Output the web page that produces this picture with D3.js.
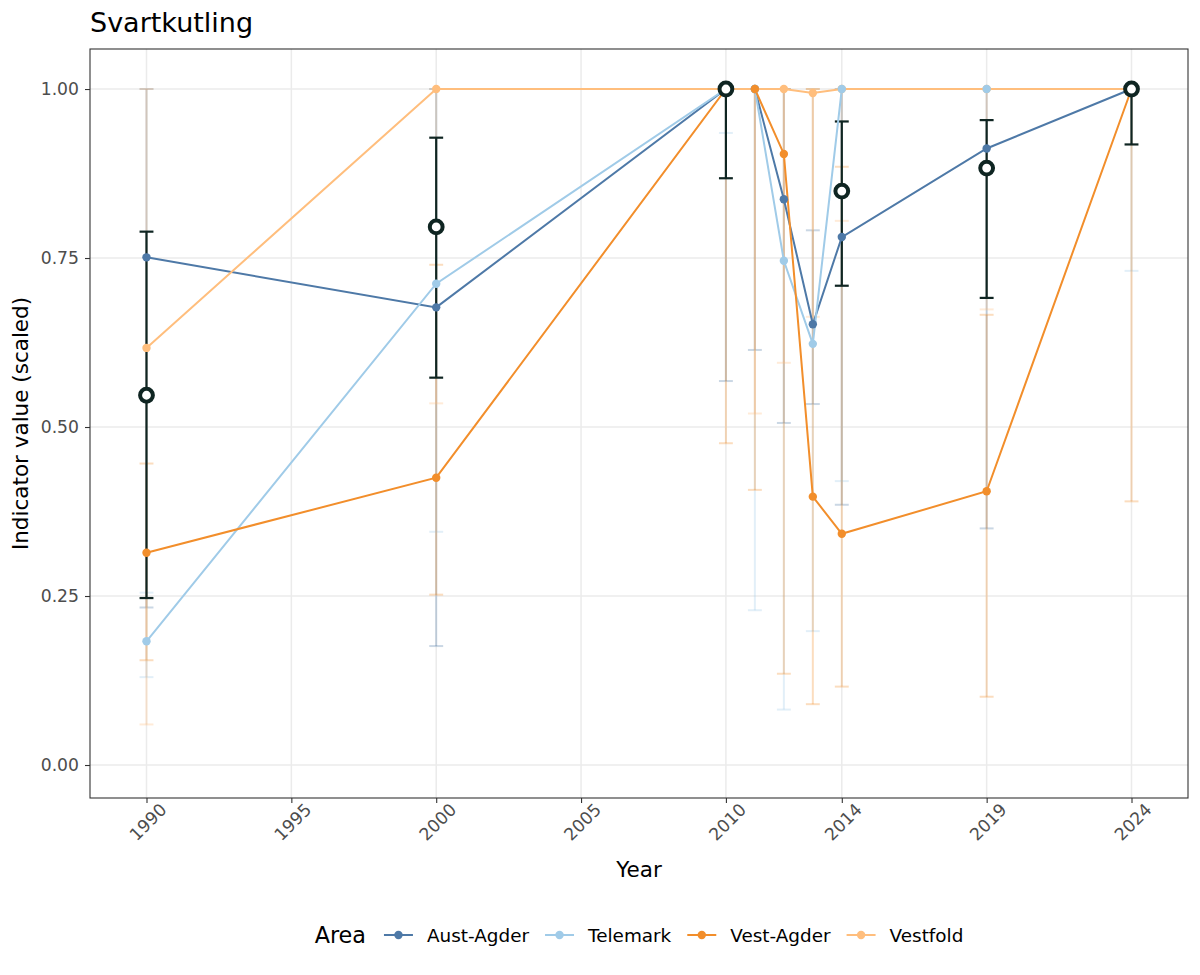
<!DOCTYPE html>
<html><head><meta charset="utf-8">
<script src="https://cdn.jsdelivr.net/npm/d3@7"></script>
<style>body{margin:0;background:#fff} text{font-family:"DejaVu Sans",sans-serif}</style>
</head><body><svg id="c" width="1200" height="975"></svg>
<script>
// ---------- data ----------
const years = [1990, 2000, 2010, 2011, 2012, 2013, 2014, 2019, 2024];
const areas = ["Aust-Agder", "Telemark", "Vest-Agder", "Vestfold"];
const areaColors = ["#4E79A7", "#A0CBE8", "#F28E2B", "#FFBE7D"];

const austAgderValue = [0.751, 0.677, 1.0, 1.0, 0.837, 0.652, 0.781, 0.912, 1.0];
const austAgderLower = [0.233, 0.176, 0.568, 0.614, 0.506, 0.534, 0.385, 0.350, null];
const austAgderUpper = [1.0, 1.0, 1.0, 1.0, 1.0, 0.791, 1.0, 1.0, null];

const telemarkValue = [0.183, 0.712, 1.0, 1.0, 0.746, 0.623, 1.0, 1.0, 1.0];
const telemarkLower = [0.130, 0.345, 0.935, 0.229, 0.082, 0.198, 0.420, null, 0.731];
const telemarkUpper = [0.255, 1.0, 1.0, 1.0, 1.0, 1.0, 1.0, null, 1.0];

const vestAgderValue = [0.314, 0.425, 1.0, 1.0, 0.904, 0.397, 0.342, 0.405, 1.0];
const vestAgderLower = [0.155, 0.252, 0.476, 0.407, 0.135, 0.090, 0.116, 0.101, 0.390];
const vestAgderUpper = [0.446, 0.740, 1.0, 1.0, 1.0, 1.0, 0.885, 0.666, 1.0];

const vestfoldValue = [0.617, 1.0, 1.0, 1.0, 1.0, 0.994, 1.0, 1.0, 1.0];
const vestfoldLower = [0.060, 0.535, null, 0.520, 0.595, 0.663, 0.805, 0.674, null];
const vestfoldUpper = [1.0, 1.0, null, 1.0, 1.0, 1.0, 1.0, 1.0, null];

const meanYears = [1990, 2000, 2010, 2014, 2019, 2024];
const meanValue = [0.547, 0.796, 1.0, 0.849, 0.883, 1.0];
const meanLower = [0.247, 0.573, 0.868, 0.709, 0.691, 0.918];
const meanUpper = [0.789, 0.928, 1.0, 0.952, 0.954, 1.0];

const xTickValues = [1990, 1995, 2000, 2005, 2010, 2014, 2019, 2024];
const yTickValues = [0, 0.25, 0.5, 0.75, 1.0];

const titleText = "Svartkutling";
const xTitle = "Year";
const yTitle = "Indicator value (scaled)";
const legendTitle = "Area";

// ---------- build ----------
const seriesVals = [austAgderValue, telemarkValue, vestAgderValue, vestfoldValue];
const seriesLow = [austAgderLower, telemarkLower, vestAgderLower, vestfoldLower];
const seriesUp = [austAgderUpper, telemarkUpper, vestAgderUpper, vestfoldUpper];
const series = areas.map((a, i) => ({
  name: a, color: areaColors[i],
  pts: years.map((yr, j) => ({yr, v: seriesVals[i][j], lo: seriesLow[i][j], hi: seriesUp[i][j]}))
}));
const means = meanYears.map((yr, j) => ({yr, v: meanValue[j], lo: meanLower[j], hi: meanUpper[j]}));

const P = {l: 90, r: 1188, t: 49, b: 798};
const svg = d3.select("#c");
const x = d3.scaleLinear().domain([1988.05, 2025.95]).range([P.l, P.r]);
const y = d3.scaleLinear().domain([-0.0488, 1.0592]).range([P.b, P.t]);
const capW = 0.24; // half-width of error bar caps in years
const darkCol = "#0f2522";

// grid
const g = svg.append("g");
g.selectAll(".gx").data(xTickValues).join("line")
  .attr("x1", d => x(d)).attr("x2", d => x(d)).attr("y1", P.t).attr("y2", P.b)
  .attr("stroke", "#EBEBEB").attr("stroke-width", 1.5);
g.selectAll(".gy").data(yTickValues).join("line")
  .attr("y1", d => y(d)).attr("y2", d => y(d)).attr("x1", P.l).attr("x2", P.r)
  .attr("stroke", "#EBEBEB").attr("stroke-width", 1.5);

// error bars helper
function errorbars(sel, data, color, opacity, width) {
  const d0 = data.filter(d => d.lo != null && d.hi != null);
  const gg = sel.append("g").attr("stroke", color).attr("stroke-opacity", opacity).attr("stroke-width", width);
  gg.selectAll(".v").data(d0).join("line")
    .attr("x1", d => x(d.yr)).attr("x2", d => x(d.yr)).attr("y1", d => y(d.lo)).attr("y2", d => y(d.hi));
  gg.selectAll(".cl").data(d0).join("line")
    .attr("x1", d => x(d.yr - capW)).attr("x2", d => x(d.yr + capW)).attr("y1", d => y(d.lo)).attr("y2", d => y(d.lo));
  gg.selectAll(".ch").data(d0).join("line")
    .attr("x1", d => x(d.yr - capW)).attr("x2", d => x(d.yr + capW)).attr("y1", d => y(d.hi)).attr("y2", d => y(d.hi));
}
series.forEach(s => errorbars(svg, s.pts, s.color, 0.3, 2));
errorbars(svg, means, darkCol, 1, 2.2);

// lines
const line = d3.line().defined(d => d.v != null).x(d => x(d.yr)).y(d => y(d.v));
series.forEach(s => {
  svg.append("path").datum(s.pts).attr("d", line).attr("fill", "none")
    .attr("stroke", s.color).attr("stroke-width", 2);
});
// points (drawing order as seen in the reference)
const pointOrder = [3, 0, 1, 2];
pointOrder.forEach(i => {
  const s = series[i];
  svg.append("g").selectAll("circle").data(s.pts.filter(d => d.v != null)).join("circle")
    .attr("cx", d => x(d.yr)).attr("cy", d => y(d.v)).attr("r", 4.2).attr("fill", s.color);
});
// mean points
svg.append("g").selectAll("circle").data(means).join("circle")
  .attr("cx", d => x(d.yr)).attr("cy", d => y(d.v)).attr("r", 6.4)
  .attr("fill", "#fff").attr("stroke", darkCol).attr("stroke-width", 4);

// panel border
svg.append("rect").attr("x", P.l).attr("y", P.t).attr("width", P.r - P.l).attr("height", P.b - P.t)
  .attr("fill", "none").attr("stroke", "#333333").attr("stroke-width", 1.1);

// axes
const ya = svg.append("g").attr("transform", `translate(${P.l},0)`)
  .call(d3.axisLeft(y).tickValues(yTickValues).tickFormat(d3.format(".2f")).tickSize(5).tickPadding(6));
ya.select(".domain").remove();
ya.selectAll(".tick line").attr("stroke", "#333333").attr("stroke-width", 1.1);
ya.selectAll(".tick text").attr("fill", "#4D4D4D").style("font-size", "17.2px")
  .style("font-family", '"DejaVu Sans", sans-serif');

const xa = svg.append("g").attr("transform", `translate(0,${P.b})`)
  .call(d3.axisBottom(x).tickValues(xTickValues).tickFormat(d3.format("d")).tickSize(5));
xa.select(".domain").remove();
xa.selectAll(".tick line").attr("stroke", "#333333").attr("stroke-width", 1.1);
xa.selectAll(".tick text").attr("fill", "#4D4D4D").style("font-size", "17.2px")
  .style("font-family", '"DejaVu Sans", sans-serif')
  .attr("x", null).attr("y", null).attr("dy", null)
  .attr("text-anchor", "middle").attr("dominant-baseline", "central")
  .attr("transform", "translate(1,24) rotate(-45)");

// titles
svg.append("text").attr("x", P.l).attr("y", 32).text(titleText)
  .style("font-size", "27px").attr("fill", "#000");
svg.append("text").attr("x", (P.l + P.r) / 2).attr("y", 877).attr("text-anchor", "middle")
  .text(xTitle).style("font-size", "21.5px").attr("fill", "#000");
svg.append("text").attr("transform", `translate(28,${(P.t + P.b) / 2}) rotate(-90)`)
  .attr("text-anchor", "middle").text(yTitle).style("font-size", "21.5px").attr("fill", "#000");

// legend
const lg = svg.append("g");
const ly = 935;
const lt = lg.append("text").attr("x", 0).attr("y", ly).attr("dominant-baseline", "central")
  .text(legendTitle).style("font-size", "22.3px").attr("fill", "#000");
let cx = lt.node().getComputedTextLength() + 18;
series.forEach((s, i) => {
  lg.append("line").attr("x1", cx).attr("x2", cx + 29).attr("y1", ly).attr("y2", ly)
    .attr("stroke", s.color).attr("stroke-width", 2);
  lg.append("circle").attr("cx", cx + 14.5).attr("cy", ly).attr("r", 4.2).attr("fill", s.color);
  const t = lg.append("text").attr("x", cx + 43).attr("y", ly).attr("dominant-baseline", "central")
    .text(s.name).style("font-size", "18.4px").attr("fill", "#000");
  cx = cx + 43 + t.node().getComputedTextLength() + (i < series.length - 1 ? 16 : 0);
});
const lw = cx;
lg.attr("transform", `translate(${(P.l + P.r) / 2 - lw / 2},0)`);
</script></body></html>
